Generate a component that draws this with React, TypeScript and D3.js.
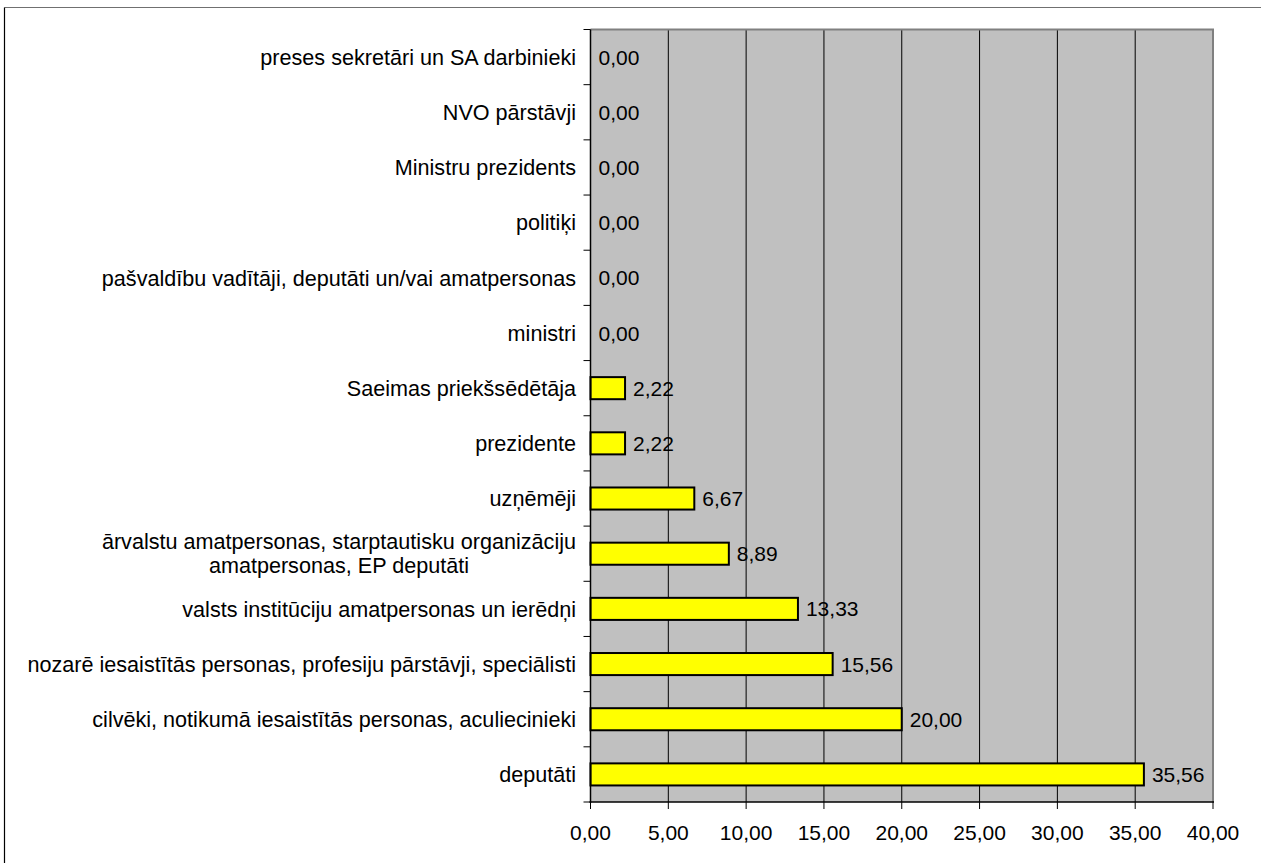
import React from "react";
import * as d3 from "d3";

const categories: string[][] = [
  ["preses sekretāri un SA darbinieki"],
  ["NVO pārstāvji"],
  ["Ministru prezidents"],
  ["politiķi"],
  ["pašvaldību vadītāji, deputāti un/vai amatpersonas"],
  ["ministri"],
  ["Saeimas priekšsēdētāja"],
  ["prezidente"],
  ["uzņēmēji"],
  ["ārvalstu amatpersonas, starptautisku organizāciju", "amatpersonas, EP deputāti"],
  ["valsts institūciju amatpersonas un ierēdņi"],
  ["nozarē iesaistītās personas, profesiju pārstāvji, speciālisti"],
  ["cilvēki, notikumā iesaistītās personas, aculiecinieki"],
  ["deputāti"],
];
const values: number[] = [0, 0, 0, 0, 0, 0, 2.22, 2.22, 6.67, 8.89, 13.33, 15.56, 20.0, 35.56];
const xTicks: number[] = [0, 5, 10, 15, 20, 25, 30, 35, 40];

const W = 1261;
const H = 863;
const left = 590.5;
const right = 1213;
const top = 29.5;
const bottom = 802;
const FONT = "'Liberation Sans', Arial, sans-serif";
const fmt = (v: number) => v.toFixed(2).replace(".", ",");
const CAT_FS = 21.6;

export default function App() {
  const x = d3.scaleLinear().domain([0, 40]).range([left, right]);
  const y = d3
    .scaleBand<number>()
    .domain(d3.range(categories.length))
    .range([top, bottom])
    .paddingInner(0)
    .paddingOuter(0);
  const bw = y.bandwidth();
  const barH = bw * 0.4;
  const boundaries = d3.range(categories.length + 1).map((i) => top + i * bw);

  return (
    <svg
      width={W}
      height={H}
      style={{ position: "absolute", left: 0, top: 0, display: "block", background: "#fff" }}
      fontFamily={FONT}
    >
      <rect x={0} y={0} width={W} height={H} fill="#fff" />
      {/* outer frame */}
      <line x1={4.5} y1={7.5} x2={W} y2={7.5} stroke="#707070" strokeWidth={1} />
      <line x1={4.5} y1={7.5} x2={4.5} y2={H} stroke="#000" strokeWidth={1.2} />
      {/* plot area */}
      <rect x={left} y={top} width={right - left} height={bottom - top} fill="#C0C0C0" />
      {xTicks.slice(1, -1).map((t) => (
        <line key={t} x1={x(t)} x2={x(t)} y1={top} y2={bottom} stroke="#000" strokeWidth={1} />
      ))}
      <line x1={left} x2={right + 1} y1={top} y2={top} stroke="#808080" strokeWidth={2} />
      <line x1={right} x2={right} y1={top} y2={bottom} stroke="#808080" strokeWidth={2} />
      {/* bars */}
      {values.map((v, i) =>
        v > 0 ? (
          <rect
            key={i}
            x={x(0)}
            y={(y(i) as number) + bw / 2 - barH / 2}
            width={x(v) - x(0)}
            height={barH}
            fill="#FFFF00"
            stroke="#000"
            strokeWidth={2}
          />
        ) : null
      )}
      {/* value labels */}
      {values.map((v, i) => (
        <text
          key={i}
          x={x(v) + 8}
          y={(y(i) as number) + bw / 2}
          dy="0.36em"
          fontSize={21}
          fill="#000"
        >
          {fmt(v)}
        </text>
      ))}
      {/* axes */}
      <line x1={left} x2={left} y1={top} y2={bottom + 1} stroke="#000" strokeWidth={1.5} />
      <line x1={left - 1} x2={right + 1} y1={bottom} y2={bottom} stroke="#000" strokeWidth={1.5} />
      {boundaries.map((b, i) => (
        <line key={i} x1={left - 7} x2={left} y1={b} y2={b} stroke="#000" strokeWidth={1} />
      ))}
      {xTicks.map((t) => (
        <line key={t} x1={x(t)} x2={x(t)} y1={bottom} y2={bottom + 7} stroke="#000" strokeWidth={1} />
      ))}
      {xTicks.map((t) => (
        <text key={t} x={x(t)} y={bottom + 30} textAnchor="middle" dy="0.36em" fontSize={21} fill="#000">
          {fmt(t)}
        </text>
      ))}
      {/* category labels */}
      {categories.map((lines, i) => {
        const cy = (y(i) as number) + bw / 2;
        const lh = 24;
        if (lines.length === 1) {
          return (
            <text key={i} x={576} y={cy} dy="0.36em" textAnchor="end" fontSize={CAT_FS} fill="#000">
              {lines[0]}
            </text>
          );
        }
        return (
          <g key={i}>
            <text x={576} y={cy - lh / 2} dy="0.36em" textAnchor="end" fontSize={CAT_FS} fill="#000">
              {lines[0]}
            </text>
            <text
              x={576}
              y={cy + lh / 2}
              dy="0.36em"
              textAnchor="middle"
              fontSize={CAT_FS}
              fill="#000"
              ref={(el) => {
                if (!el) return;
                const prev = el.previousSibling as SVGTextElement | null;
                if (prev && prev.getComputedTextLength) {
                  const w = prev.getComputedTextLength();
                  el.setAttribute("x", String(576 - w / 2));
                }
              }}
            >
              {lines[1]}
            </text>
          </g>
        );
      })}
    </svg>
  );
}
